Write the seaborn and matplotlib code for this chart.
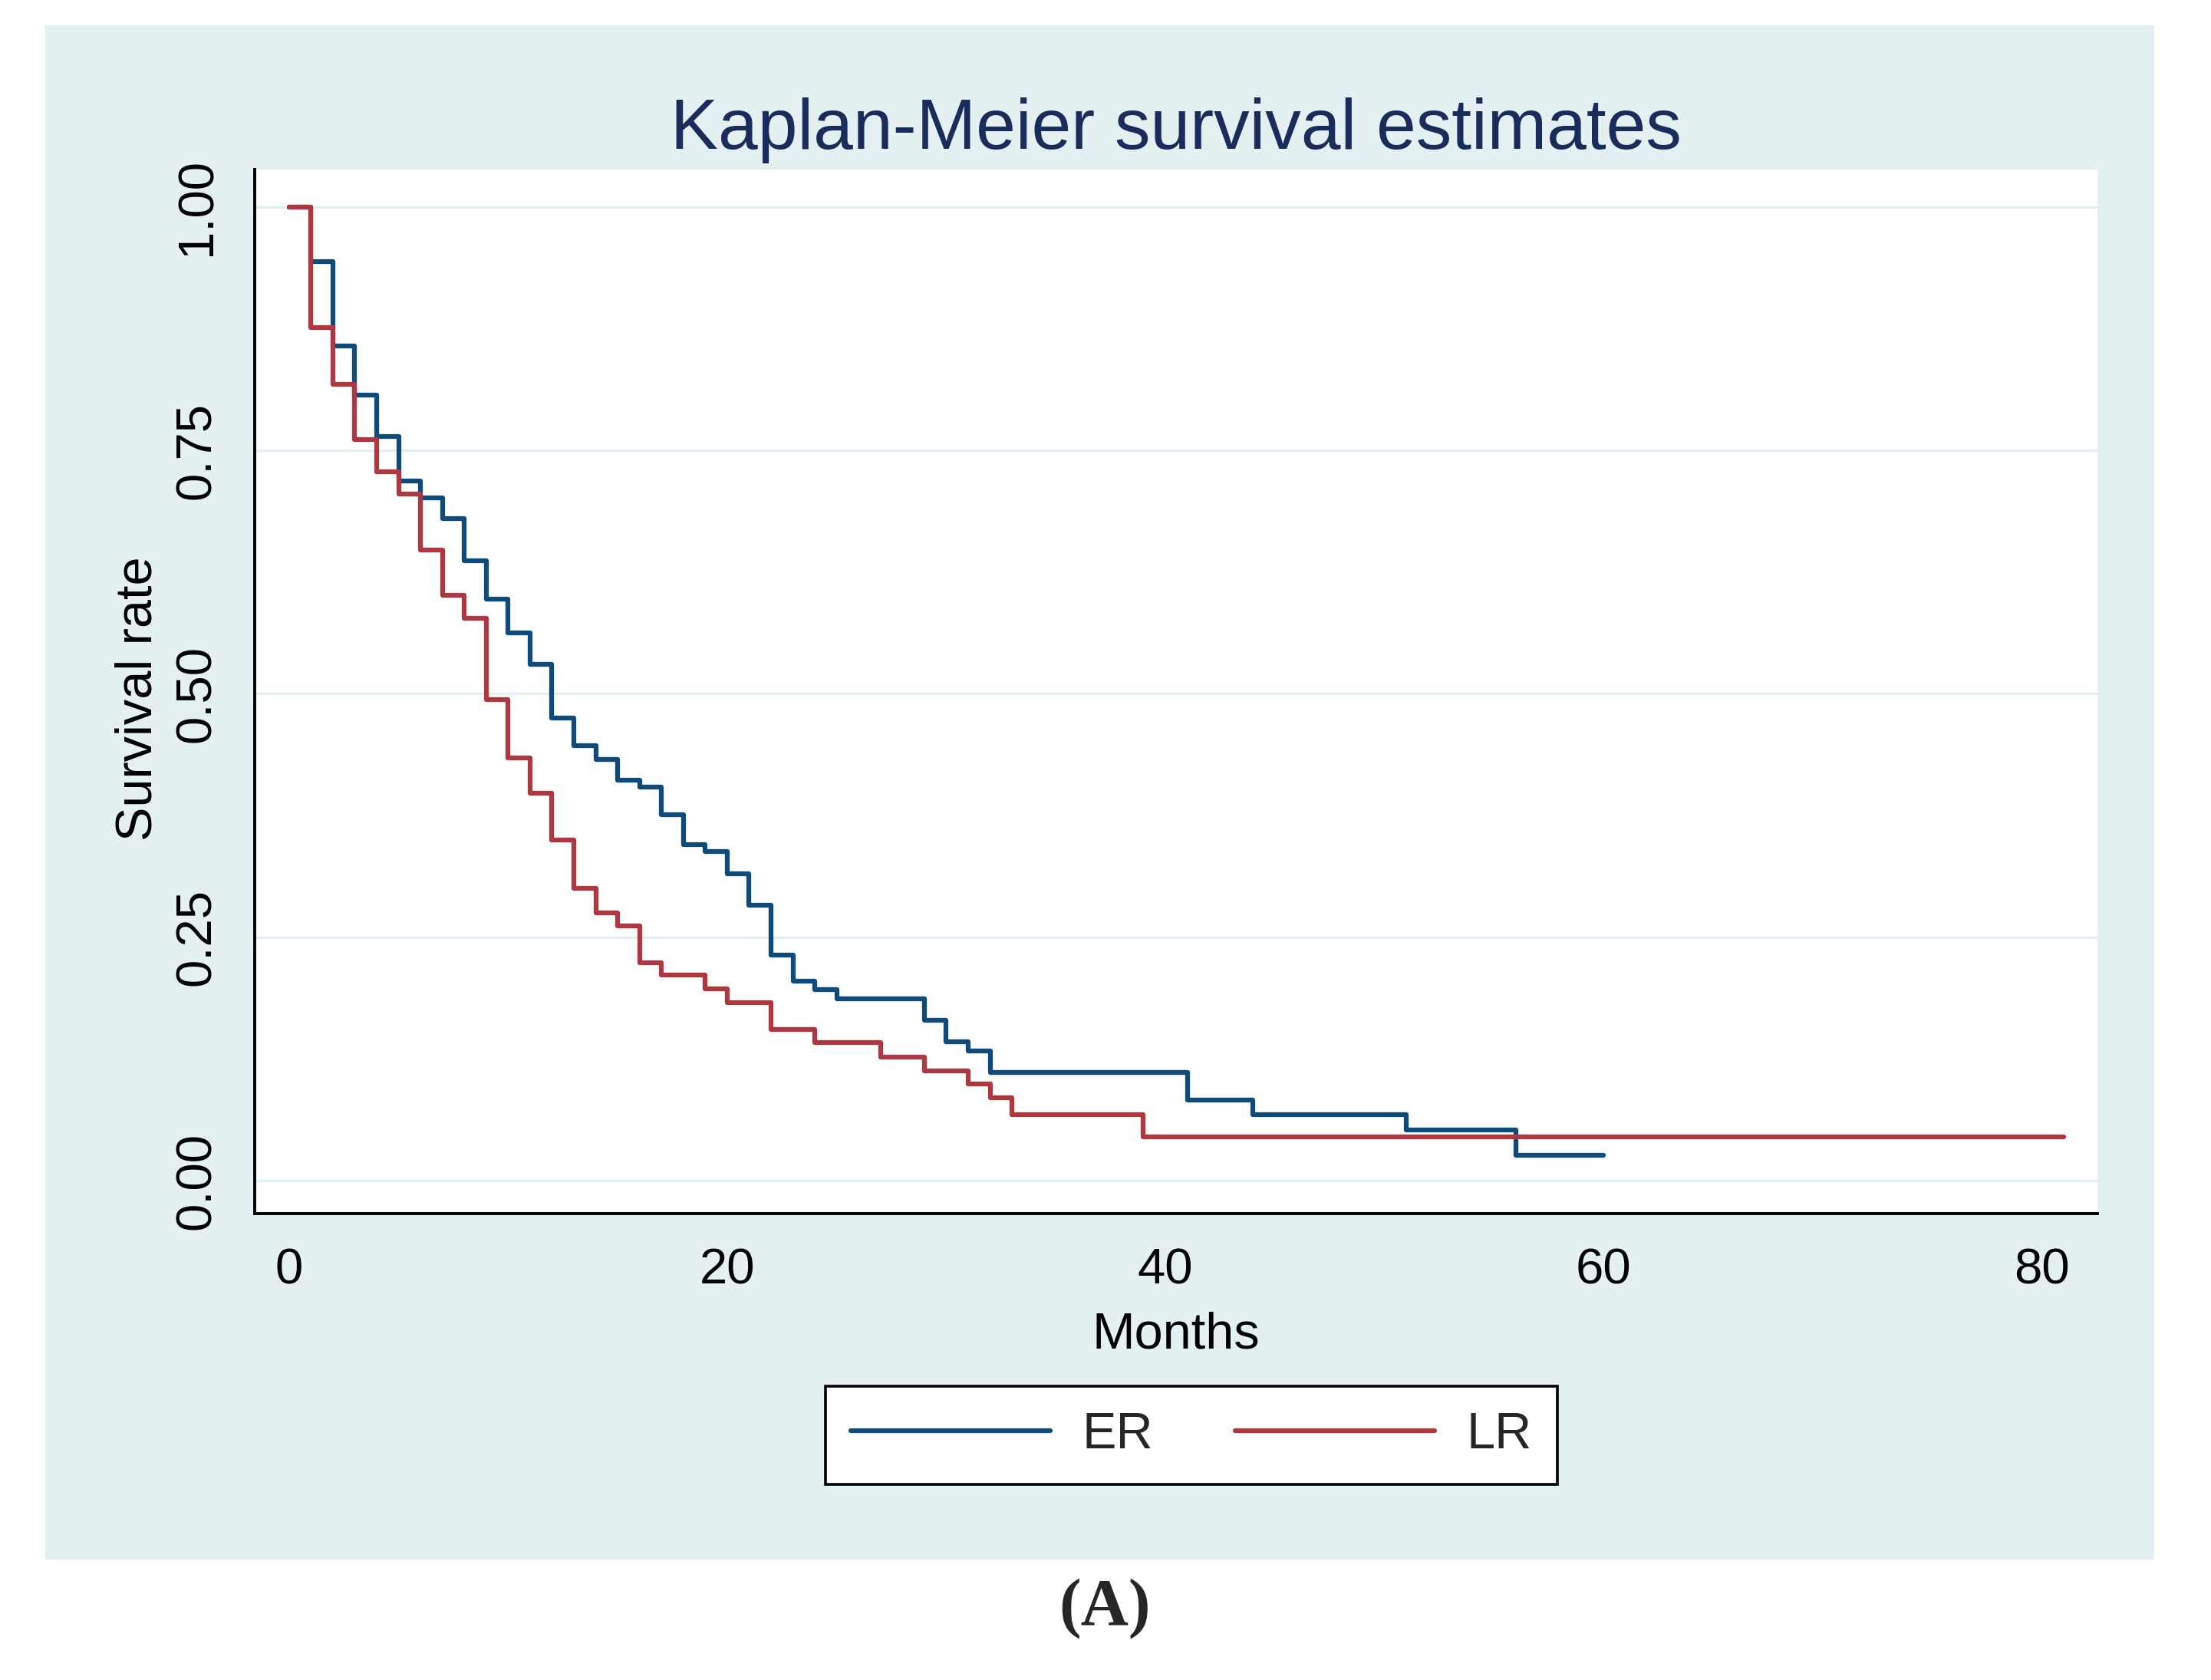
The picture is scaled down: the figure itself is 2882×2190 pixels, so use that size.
import matplotlib
matplotlib.use("Agg")
import matplotlib.pyplot as plt
from matplotlib.patches import Rectangle
from matplotlib.lines import Line2D
import seaborn as sns
import pandas as pd

# ---- data ----
er_months = [0, 1, 2, 3, 4, 5, 6, 7, 8, 9, 10, 11, 12, 13, 14, 15, 16, 17, 18, 19, 20,
             21, 22, 23, 24, 25, 29, 30, 31, 32, 41, 44, 51, 56, 60]
er_surv = [1.0, 0.944, 0.857, 0.807, 0.764, 0.719, 0.701, 0.680, 0.637, 0.597, 0.563,
           0.530, 0.475, 0.447, 0.433, 0.411, 0.404, 0.376, 0.345, 0.338, 0.315, 0.283,
           0.232, 0.205, 0.196, 0.187, 0.165, 0.143, 0.133, 0.111, 0.083, 0.068, 0.052,
           0.026, 0.026]
lr_months = [0, 1, 2, 3, 4, 5, 6, 7, 8, 9, 10, 11, 12, 13, 14, 15, 16, 17, 19, 20, 22,
             24, 27, 29, 31, 32, 33, 39, 81]
lr_surv = [1.0, 0.876, 0.818, 0.761, 0.728, 0.705, 0.648, 0.601, 0.578, 0.494, 0.434,
           0.398, 0.350, 0.300, 0.275, 0.262, 0.224, 0.211, 0.197, 0.183, 0.155, 0.142,
           0.127, 0.113, 0.099, 0.085, 0.068, 0.045, 0.045]
groups = ["ER", "LR"]
x_ticks = [0, 20, 40, 60, 80]
y_ticks = [0.0, 0.25, 0.5, 0.75, 1.0]
y_tick_labels = ["0.00", "0.25", "0.50", "0.75", "1.00"]
title = "Kaplan-Meier survival estimates"
x_label = "Months"
y_label = "Survival rate"
panel_label = "(A)"

df = pd.concat([
    pd.DataFrame({"Months": er_months, "Survival": er_surv, "Group": groups[0]}),
    pd.DataFrame({"Months": lr_months, "Survival": lr_surv, "Group": groups[1]}),
], ignore_index=True)

# ---- style ----
sns.set_style("white")
plt.rcParams["font.family"] = ["Liberation Sans", "DejaVu Sans"]

BG = "#e5f0f2"
BLUE = "#0e4b7b"
RED = "#ae3741"
NAVY = "#1a2c5b"
LW = 4.5

fig = plt.figure(figsize=(28.82, 21.90), dpi=100, facecolor="white")
fig.patches.append(Rectangle((0.0206, 0.0717), 0.9743 - 0.0206, 0.985 - 0.0717,
                             transform=fig.transFigure, facecolor=BG,
                             edgecolor="none", zorder=-10))

ax = fig.add_axes([0.1151, 0.2776, 0.8334, 0.6215])
ax.set_facecolor("white")

sns.lineplot(data=df, x="Months", y="Survival", hue="Group",
             palette={groups[0]: BLUE, groups[1]: RED},
             drawstyle="steps-post", estimator=None, sort=False,
             linewidth=LW, ax=ax, legend=False)

ax.set_xlim(-1.576, 82.53)
ax.set_ylim(-0.0339, 1.0386)
ax.set_xticks(x_ticks)
ax.set_yticks(y_ticks)
ax.set_yticklabels(y_tick_labels)

for y in y_ticks:
    ax.axhline(y, color=BG, linewidth=2.4, zorder=0)

for s in ["top", "right"]:
    ax.spines[s].set_visible(False)
for s in ["left", "bottom"]:
    ax.spines[s].set_color("black")
    ax.spines[s].set_linewidth(2.8)

ax.tick_params(axis="both", which="major", direction="out", length=19, width=2.6,
               color="black", labelsize=47, labelcolor="black")
ax.tick_params(axis="x", pad=13)
ax.tick_params(axis="y", pad=13)
for lab in ax.get_yticklabels():
    lab.set_rotation(90)
    lab.set_va("center")
    lab.set_ha("right")

ax.set_title(title, fontsize=67, color=NAVY, y=1.0198, pad=0)
ax.set_xlabel(x_label, fontsize=48, color="black")
ax.xaxis.set_label_coords(0.5, -0.094)
ax.set_ylabel(y_label, fontsize=48, color="black")
ax.yaxis.set_label_coords(-0.050, 0.493)

handles = [Line2D([], [], color=BLUE, linewidth=LW),
           Line2D([], [], color=RED, linewidth=LW)]
leg = fig.legend(handles, groups, loc="center", bbox_to_anchor=(0.5388, 0.1457),
                 bbox_transform=fig.transFigure, ncol=2, fontsize=48,
                 frameon=True, fancybox=False, handlelength=3.9,
                 handletextpad=0.62, columnspacing=1.6, borderpad=0.5)
leg.get_frame().set_edgecolor("black")
leg.get_frame().set_linewidth(2.6)
leg.get_frame().set_facecolor("white")
leg.get_frame().set_alpha(1)

fig.text(0.4995, 0.0425, panel_label, ha="center", va="center", fontsize=62,
         fontweight="bold", family=["Liberation Serif", "DejaVu Serif"])

fig.savefig("out.png", dpi=100, facecolor="white")
